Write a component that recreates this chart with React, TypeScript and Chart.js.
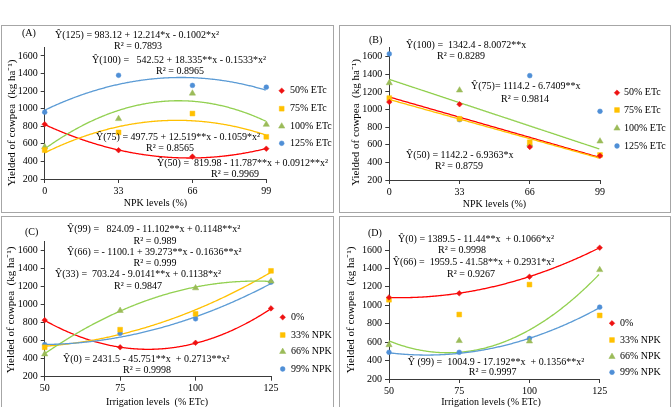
import React, { useEffect, useRef } from "react";
import { Chart, registerables } from "chart.js";
import { drawPoint } from "chart.js/helpers";

Chart.register(...registerables);

// ---------- data ----------
const npkLevels = [0, 33, 66, 99];
const irrigationLevels = [50, 75, 100, 125];
const etcLabels = ["50% ETc", "75% ETc", "100% ETc", "125% ETc"];
const npkLabels = ["0%", "33% NPK", "66% NPK", "99% NPK"];
const yTicks = [200, 400, 600, 800, 1000, 1200, 1400, 1600];

// Panel A (x = NPK levels)
const a50 = [823, 527, 455, 545];
const a75 = [530, 730, 945, 680];
const a100 = [565, 885, 1175, 820];
const a125 = [960, 1380, 1265, 1245];
// Panel B (x = NPK levels)
const b50 = [1085, 1060, 575, 474];
const b75 = [1130, 895, 628, 484];
const b100 = [1302, 1219, 605, 640];
const b125 = [1632, 885, 1385, 980];
// Panel C (x = irrigation levels)
const c0 = [825, 525, 575, 955];
const c33 = [525, 720, 895, 1370];
const c66 = [450, 930, 1180, 1255];
const c99 = [555, 680, 840, 1245];
// Panel D (x = irrigation levels)
const d0 = [1085, 1130, 1310, 1625];
const d33 = [1060, 900, 1225, 890];
const d66 = [570, 615, 610, 1385];
const d99 = [490, 490, 640, 980];

// Trend-line coefficients [a, b, c] of a + b*x + c*x^2 (as printed in the chart)
const fitA50 = [819.98, -11.787, 0.0912];
const fitA75 = [497.75, 12.519, -0.1059];
const fitA100 = [542.52, 18.335, -0.1533];
const fitA125 = [983.12, 12.214, -0.1002];
const fitB50 = [1142.2, -6.9363, 0];
const fitB75 = [1114.2, -6.7409, 0];
const fitB100 = [1342.4, -8.0072, 0];
const fitC0 = [2431.5, -45.751, 0.2713];
const fitC33 = [703.24, -9.0141, 0.1138];
const fitC66 = [-1100.1, 39.273, -0.1636];
const fitC99 = [824.09, -11.102, 0.1148];
const fitD0 = [1389.5, -11.44, 0.1066];
const fitD66 = [1959.5, -41.58, 0.2931];
const fitD99 = [1004.9, -17.192, 0.1356];

// ---------- styles ----------
const FONT = '"Liberation Serif", "Times New Roman", serif';
const styles = [
  { color: "#ee1111", line: "#ff0000", pointStyle: "rectRot", radius: 2.8 },
  { color: "#ffc000", line: "#ffc000", pointStyle: "rect", radius: 3.4 },
  { color: "#9bbb59", line: "#92d050", pointStyle: "triangle", radius: 3.6 },
  { color: "#4f8fd6", line: "#5b9bd5", pointStyle: "circle", radius: 2.4 },
];

type Note = [string, number, number, "left" | "center"];

const panels = [
  {
    left: 1, top: 25, width: 333, height: 188,
    xs: npkLevels, xMin: 0, xMax: 99, xStep: 33,
    series: [a50, a75, a100, a125], labels: etcLabels,
    fits: [[fitA50, 0], [fitA75, 1], [fitA100, 2], [fitA125, 3]] as [number[], number][],
    plot: { left: 44.7, right: 266.3, top: 47.2, bottom: 179 },
    xTitle: "NPK levels (%)", xTitlePos: [155.5, 203],
    yTitlePos: [12, 123],
    legend: { mx: 281.7, tx: 290, ys: [90.7, 108.7, 126.3, 143.3] },
    notes: [
      ["(A)", 22, 33, "left"],
      ["Ŷ(125) = 983.12 + 12.214*x - 0.1002*x²", 55, 35, "left"],
      ["R² = 0.7893", 138, 46, "center"],
      ["Ŷ(100) =   542.52 + 18.335**x - 0.1533*x²", 92, 60.7, "left"],
      ["R² = 0.8965", 180, 71.7, "center"],
      ["Ŷ(75) = 497.75 + 12.519**x - 0.1059*x²", 96, 137.3, "left"],
      ["R² = 0.8565", 170, 148.3, "center"],
      ["Ŷ(50) =  819.98 - 11.787**x + 0.0912**x²", 157, 163.3, "left"],
      ["R² = 0.9969", 235, 174, "center"],
    ] as Note[],
  },
  {
    left: 339, top: 25, width: 332, height: 188,
    xs: npkLevels, xMin: 0, xMax: 99, xStep: 33,
    series: [b50, b75, b100, b125], labels: etcLabels,
    fits: [[fitB50, 0], [fitB75, 1], [fitB100, 2]] as [number[], number][],
    plot: { left: 389.3, right: 600, top: 47.9, bottom: 180 },
    xTitle: "NPK levels (%)", xTitlePos: [494.5, 204],
    yTitlePos: [356, 122.5],
    legend: { mx: 617, tx: 624, ys: [92.7, 110, 128.3, 146] },
    notes: [
      ["(B)", 369, 40, "left"],
      ["Ŷ(100) =  1342.4 - 8.0072**x", 406, 45, "left"],
      ["R² = 0.8289", 461, 56, "center"],
      ["Ŷ(75)= 1114.2 - 6.7409**x", 471, 86.7, "left"],
      ["R² = 0.9814", 525, 99, "center"],
      ["Ŷ(50) = 1142.2 - 6.9363*x", 406, 155.7, "left"],
      ["R² = 0.8759", 459, 166, "center"],
    ] as Note[],
  },
  {
    left: 1, top: 216, width: 333, height: 200,
    xs: irrigationLevels, xMin: 50, xMax: 125, xStep: 25,
    series: [c0, c33, c66, c99], labels: npkLabels,
    fits: [[fitC0, 0], [fitC33, 1], [fitC66, 2], [fitC99, 3]] as [number[], number][],
    plot: { left: 44.7, right: 271, top: 241, bottom: 376.7 },
    xTitle: "Irrigation levels  (% ETc)", xTitlePos: [157, 402],
    yTitlePos: [11, 310],
    legend: { mx: 282.7, tx: 291, ys: [317.3, 335, 351.7, 369] },
    notes: [
      ["(C)", 25, 232, "left"],
      ["Ŷ(99) =   824.09 - 11.102**x + 0.1148**x²", 67, 229, "left"],
      ["R² = 0.989", 155, 241.7, "center"],
      ["Ŷ(66) = - 1100.1 + 39.273**x - 0.1636**x²", 67, 252.7, "left"],
      ["R² = 0.999", 155, 263.3, "center"],
      ["Ŷ(33) =  703.24 - 9.0141**x + 0.1138*x²", 55, 274, "left"],
      ["R² = 0.9847", 138, 286, "center"],
      ["Ŷ(0) = 2431.5 - 45.751**x  + 0.2713**x²", 63, 359, "left"],
      ["R² = 0.9998", 147, 370.7, "center"],
    ] as Note[],
  },
  {
    left: 339, top: 216, width: 332, height: 200,
    xs: irrigationLevels, xMin: 50, xMax: 125, xStep: 25,
    series: [d0, d33, d66, d99], labels: npkLabels,
    fits: [[fitD0, 0], [fitD66, 2], [fitD99, 3]] as [number[], number][],
    plot: { left: 389, right: 599.7, top: 240.8, bottom: 379 },
    xTitle: "Irrigation levels (% ETc)", xTitlePos: [491, 402],
    yTitlePos: [351, 310],
    legend: { mx: 612, tx: 620, ys: [323.3, 340, 356.7, 372.3] },
    notes: [
      ["(D)", 368, 233, "left"],
      ["Ŷ(0) = 1389.5 - 11.44**x  + 0.1066*x²", 398, 239.3, "left"],
      ["R² = 0.9998", 462, 250, "center"],
      ["Ŷ(66) =  1959.5 - 41.58**x + 0.2931*x²", 392.7, 262.3, "left"],
      ["R² = 0.9267", 471, 274, "center"],
      ["Ŷ (99) =  1004.9 - 17.192**x  + 0.1356**x²", 407.7, 362.3, "left"],
      ["R² = 0.9997", 492.7, 372.3, "center"],
    ] as Note[],
  },
];

type PanelCfg = (typeof panels)[number];

function Panel({ cfg }: { cfg: PanelCfg }) {
  const ref = useRef<HTMLCanvasElement>(null);
  const cw = cfg.width - 2;
  const ch = cfg.height - 2;
  const ox = cfg.left + 1;
  const oy = cfg.top + 1;

  useEffect(() => {
    const canvas = ref.current;
    if (!canvas) return;
    const plotL = cfg.plot.left - ox;
    const plotR = cfg.plot.right - ox;
    const plotT = cfg.plot.top - oy;
    const plotB = cfg.plot.bottom - oy;

    const overlay = {
      id: "overlay",
      beforeDatasetsDraw(chart: any) {
        const { ctx, scales } = chart;
        const xs = scales.x;
        const ys = scales.y;
        cfg.fits.forEach(([coef, si]) => {
          const p0 = xs.getPixelForValue(Math.min(...cfg.xs));
          const p1 = xs.getPixelForValue(Math.max(...cfg.xs));
          ctx.save();
          ctx.beginPath();
          ctx.strokeStyle = styles[si].line;
          ctx.lineWidth = 1.3;
          for (let px = p0; px <= p1 + 0.001; px += 1) {
            const v = xs.getValueForPixel(Math.min(px, p1));
            const y = coef[0] + coef[1] * v + coef[2] * v * v;
            const py = ys.getPixelForValue(y);
            if (px === p0) ctx.moveTo(px, py);
            else ctx.lineTo(Math.min(px, p1), py);
          }
          ctx.stroke();
          ctx.restore();
        });
      },
      afterDraw(chart: any) {
        const { ctx } = chart;
        ctx.save();
        ctx.fillStyle = "#000";
        ctx.textBaseline = "middle";
        ctx.font = `10px ${FONT}`;
        cfg.notes.forEach(([t, x, y, al]) => {
          ctx.textAlign = al;
          ctx.fillText(t, x - ox, y - oy);
        });
        // axis titles
        ctx.textAlign = "center";
        ctx.fillText(cfg.xTitle, cfg.xTitlePos[0] - ox, cfg.xTitlePos[1] - oy);
        ctx.save();
        ctx.translate(cfg.yTitlePos[0] - ox, cfg.yTitlePos[1] - oy);
        ctx.rotate(-Math.PI / 2);
        ctx.font = `11px ${FONT}`;
        ctx.fillText("Yielded of cowpea  (kg ha⁻¹)", 0, 0);
        ctx.restore();
        // legend
        ctx.textAlign = "left";
        ctx.font = `10px ${FONT}`;
        cfg.labels.forEach((lab, i) => {
          const st = styles[i];
          const y = cfg.legend.ys[i] - oy;
          ctx.fillStyle = st.color;
          ctx.strokeStyle = st.color;
          ctx.lineWidth = 0.5;
          drawPoint(ctx, { pointStyle: st.pointStyle as any, radius: st.radius, borderWidth: 0.5, rotation: 0 }, cfg.legend.mx - ox, y);
          ctx.fillStyle = "#000";
          ctx.fillText(lab, cfg.legend.tx - ox, y);
        });
        ctx.restore();
      },
    };

    const chart = new Chart(canvas, {
      type: "scatter",
      data: {
        datasets: cfg.series.map((vals, i) => ({
          label: cfg.labels[i],
          data: cfg.xs.map((x, k) => ({ x, y: vals[k] })),
          backgroundColor: styles[i].color,
          borderColor: styles[i].color,
          borderWidth: 0.5,
          pointStyle: styles[i].pointStyle as any,
          pointRadius: styles[i].radius,
          showLine: false,
          clip: false as any,
        })),
      },
      options: {
        responsive: false,
        animation: false,
        devicePixelRatio: 1,
        layout: { padding: { left: 0, top: plotT, right: cw - plotR, bottom: 0 } },
        plugins: { legend: { display: false }, tooltip: { enabled: false } },
        scales: {
          x: {
            type: "linear",
            min: cfg.xMin,
            max: cfg.xMax,
            afterFit: (s: any) => { s.height = ch - plotB; },
            ticks: { stepSize: cfg.xStep, color: "#000", padding: 2, font: { family: FONT, size: 10 }, callback: (v: any) => String(v) },
            grid: { drawOnChartArea: false, drawTicks: true, tickLength: 4, tickColor: "#3a3a3a" },
            border: { display: true, color: "#3a3a3a", width: 1 },
          },
          y: {
            type: "linear",
            min: 200,
            max: 1700,
            afterFit: (s: any) => { s.width = plotL; },
            afterBuildTicks: (s: any) => { s.ticks = yTicks.map((v) => ({ value: v })); },
            ticks: { color: "#000", padding: 3, font: { family: FONT, size: 10 }, callback: (v: any) => String(v) },
            grid: { drawOnChartArea: false, drawTicks: true, tickLength: 4, tickColor: "#3a3a3a" },
            border: { display: true, color: "#3a3a3a", width: 1 },
          },
        },
      },
      plugins: [overlay],
    });
    return () => chart.destroy();
  }, []);

  return (
    <div
      style={{
        position: "absolute",
        left: cfg.left,
        top: cfg.top,
        width: cw,
        height: ch,
        border: "1px solid #a6a6a6",
        background: "#fff",
      }}
    >
      <canvas ref={ref} width={cw} height={ch} style={{ display: "block", width: cw, height: ch }} />
    </div>
  );
}

export default function App() {
  return (
    <div
      style={{
        position: "absolute",
        left: 0,
        top: 0,
        width: 672,
        height: 407,
        overflow: "hidden",
        background: "#fff",
      }}
    >
      {panels.map((p, i) => (
        <Panel key={i} cfg={p} />
      ))}
    </div>
  );
}
